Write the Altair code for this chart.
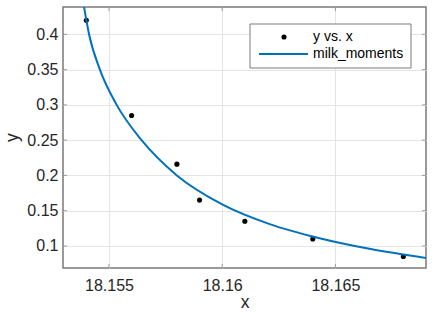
import altair as alt
import pandas as pd

# observed data points
data_x = [18.154, 18.156, 18.158, 18.159, 18.161, 18.164, 18.168]
data_y = [0.420, 0.285, 0.216, 0.165, 0.135, 0.110, 0.085]

# fitted curve
fit_x = [18.1539, 18.15412, 18.1546, 18.15534, 18.15644, 18.1580,
         18.1600, 18.1621, 18.1643, 18.1665, 18.1690]
fit_y = [0.4387, 0.400, 0.350, 0.300, 0.250, 0.200,
         0.159, 0.131, 0.111, 0.096, 0.083]

x_ticks = [18.155, 18.160, 18.165]
y_ticks = [0.10, 0.15, 0.20, 0.25, 0.30, 0.35, 0.40]
x_domain = [18.15297, 18.1690]
y_domain = [0.0688, 0.4387]
legend_labels = ["y vs. x", "milk_moments"]
x_title = "x"
y_title = "y"

FONT = "Liberation Sans"
AXIS_COLOR = "#7a7a7a"
TEXT_COLOR = "#262626"
FIT_COLOR = "#0072BD"

pts = pd.DataFrame({"x": data_x, "y": data_y})
fit = pd.DataFrame({"x": fit_x, "y": fit_y})
xt = pd.DataFrame({"v": x_ticks})
yt = pd.DataFrame({"v": y_ticks})

xscale = alt.Scale(domain=x_domain, nice=False, zero=False)
yscale = alt.Scale(domain=y_domain, nice=False, zero=False)

xaxis = alt.Axis(values=x_ticks, format=".3~f", title=x_title, grid=True,
                 gridColor="#e4e4e4", ticks=False, domain=False,
                 labelFont=FONT, labelFontSize=16, labelColor=TEXT_COLOR,
                 labelPadding=9, titleFont=FONT, titleFontSize=17.5,
                 titleFontWeight="normal", titleColor=TEXT_COLOR,
                 titleY=39, titleBaseline="alphabetic")
yaxis = alt.Axis(values=y_ticks, format=".2~f", title=y_title, grid=True,
                 gridColor="#e4e4e4", ticks=False, domain=False,
                 labelFont=FONT, labelFontSize=16, labelColor=TEXT_COLOR,
                 labelPadding=5, titleFont=FONT, titleFontSize=17.5,
                 titleFontWeight="normal", titleColor=TEXT_COLOR,
                 titleAngle=270, titleX=-46, titleY=130,
                 titleAlign="center", titleBaseline="alphabetic")

points = alt.Chart(pts).mark_circle(size=26, color="black", opacity=1).encode(
    x=alt.X("x:Q", scale=xscale, axis=xaxis),
    y=alt.Y("y:Q", scale=yscale, axis=yaxis),
)

line = alt.Chart(fit).mark_line(color=FIT_COLOR, strokeWidth=2, clip=True,
                                interpolate="monotone").encode(
    x="x:Q", y="y:Q"
)

# inward tick marks on all four sides
tb = alt.Chart(xt).mark_tick(orient="vertical", size=4, thickness=1,
                             color=AXIS_COLOR).encode(x="v:Q", y=alt.value(259))
tt = alt.Chart(xt).mark_tick(orient="vertical", size=4, thickness=1,
                             color=AXIS_COLOR).encode(x="v:Q", y=alt.value(2))
tl = alt.Chart(yt).mark_tick(orient="horizontal", size=4, thickness=1,
                             color=AXIS_COLOR).encode(y="v:Q", x=alt.value(2))
tr = alt.Chart(yt).mark_tick(orient="horizontal", size=4, thickness=1,
                             color=AXIS_COLOR).encode(y="v:Q", x=alt.value(361))

lab = pd.DataFrame({"t": legend_labels})
box = alt.Chart(lab.head(1)).mark_rect(fill="white", stroke=AXIS_COLOR,
                                       strokeWidth=1).encode(
    x=alt.value(187), x2=alt.value(348), y=alt.value(17), y2=alt.value(61))
ldot = alt.Chart(lab.head(1)).mark_circle(size=26, color="black", opacity=1).encode(
    x=alt.value(221), y=alt.value(30))
lline = alt.Chart(lab.head(1)).mark_rule(color=FIT_COLOR, strokeWidth=2).encode(
    x=alt.value(196), x2=alt.value(245), y=alt.value(47))
ltext1 = alt.Chart(lab.iloc[[0]]).mark_text(align="left", baseline="middle", font=FONT,
                                            fontSize=14, color="black").encode(
    x=alt.value(250), y=alt.value(30), text="t:N")
ltext2 = alt.Chart(lab.iloc[[1]]).mark_text(align="left", baseline="middle", font=FONT,
                                            fontSize=14, color="black").encode(
    x=alt.value(250), y=alt.value(47), text="t:N")

chart = alt.layer(points, line, tb, tt, tl, tr, box, ldot, lline, ltext1, ltext2).properties(
    width=363, height=261, autosize="none",
    padding={"left": 63, "top": 7, "right": 11, "bottom": 49},
    background="white",
).configure_view(stroke=AXIS_COLOR, strokeWidth=1.5)

chart.save("out.html", embed_options={"renderer": "svg", "actions": False})
